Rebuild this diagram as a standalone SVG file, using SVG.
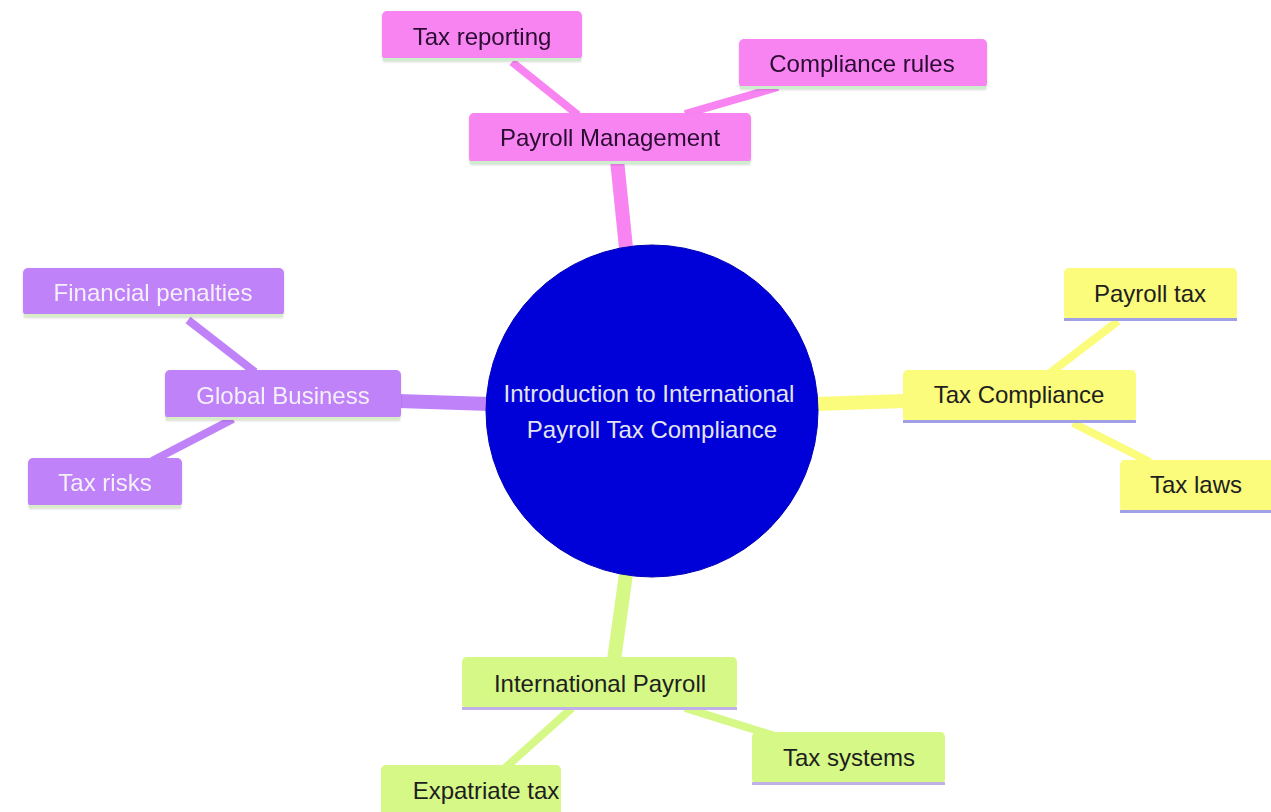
<svg xmlns="http://www.w3.org/2000/svg" width="1271" height="812" viewBox="0 0 1271 812">
<style>
text{font-family:"Liberation Sans",Arial,sans-serif;font-size:24px;text-anchor:middle;dominant-baseline:central}
.pk{fill:#f884f2}.pu{fill:#c082f8}.ye{fill:#fbfb7c}.gr{fill:#d6f886}
.dk{fill:#1e1e1e}.dp{fill:#2a0a30}.wt{fill:#f4f0f8}
.lg{fill:#cdeecd}.lb{fill:#a0a0e6}.ll{fill:#bfb0e8}
.e{fill:none;stroke-linecap:butt}
</style>
<defs>
<filter id="sh" x="-10%" y="-20%" width="120%" height="150%"><feDropShadow dx="0" dy="1" stdDeviation="1.2" flood-color="#000" flood-opacity="0.15"/></filter>
</defs>
<rect width="1271" height="812" fill="#fff"/>
<g id="connectors">
<line class="e" x1="626" y1="248" x2="617" y2="160" stroke="#f884f2" stroke-width="14"/>
<line class="e" x1="578" y1="115" x2="512" y2="62" stroke="#f884f2" stroke-width="8"/>
<line class="e" x1="685" y1="114" x2="778" y2="87" stroke="#f884f2" stroke-width="8"/>
<line class="e" x1="490" y1="404" x2="398" y2="401" stroke="#c082f8" stroke-width="14"/>
<line class="e" x1="255" y1="372" x2="188" y2="320" stroke="#c082f8" stroke-width="8"/>
<line class="e" x1="233" y1="419" x2="152" y2="461" stroke="#c082f8" stroke-width="8"/>
<line class="e" x1="815" y1="404" x2="905" y2="401" stroke="#fbfb7c" stroke-width="14"/>
<line class="e" x1="1050" y1="373" x2="1118" y2="321" stroke="#fbfb7c" stroke-width="8"/>
<line class="e" x1="1073" y1="423" x2="1150" y2="462" stroke="#fbfb7c" stroke-width="8"/>
<line class="e" x1="626" y1="574" x2="614" y2="660" stroke="#d6f886" stroke-width="14"/>
<line class="e" x1="572" y1="708" x2="505" y2="768" stroke="#d6f886" stroke-width="8"/>
<line class="e" x1="685" y1="708" x2="775" y2="736" stroke="#d6f886" stroke-width="8"/>
</g>
<g id="root">
<circle cx="652" cy="411" r="166" fill="#0000d8" stroke="#0000b8" stroke-width="1"/>
<text x="649" y="393" fill="#e4e4ee">Introduction to International</text>
<text x="652" y="429" fill="#e4e4ee">Payroll Tax Compliance</text>
</g>
<g id="payroll-management" filter="url(#sh)">
<rect x="469" y="113" width="282" height="50" rx="5" class="pk"/>
<rect x="470" y="161" width="280" height="3" class="lg"/>
<text x="610" y="137" class="dp">Payroll Management</text>
</g>
<g id="tax-reporting" filter="url(#sh)">
<rect x="382" y="11" width="200" height="49" rx="5" class="pk"/>
<rect x="383" y="58" width="198" height="3" class="lg"/>
<text x="482" y="36" class="dp">Tax reporting</text>
</g>
<g id="compliance-rules" filter="url(#sh)">
<rect x="739" y="39" width="248" height="49" rx="5" class="pk"/>
<rect x="740" y="86" width="246" height="3" class="lg"/>
<text x="862" y="63" class="dp">Compliance rules</text>
</g>
<g id="global-business" filter="url(#sh)">
<rect x="165" y="370" width="236" height="49" rx="5" class="pu"/>
<rect x="166" y="417" width="234" height="3" fill="#d8ecc8"/>
<text x="283" y="395" class="wt">Global Business</text>
</g>
<g id="financial-penalties" filter="url(#sh)">
<rect x="23" y="268" width="261" height="48" rx="5" class="pu"/>
<rect x="24" y="314" width="259" height="3" fill="#d8ecc8"/>
<text x="153" y="292" class="wt">Financial penalties</text>
</g>
<g id="tax-risks" filter="url(#sh)">
<rect x="28" y="458" width="154" height="49" rx="5" class="pu"/>
<rect x="29" y="505" width="152" height="3" fill="#d8ecc8"/>
<text x="105" y="482" class="wt">Tax risks</text>
</g>
<g id="tax-compliance">
<rect x="903" y="370" width="233" height="52" rx="5" class="ye"/>
<rect x="903" y="420" width="233" height="3" class="lb"/>
<text x="1019" y="394" class="dk">Tax Compliance</text>
</g>
<g id="payroll-tax">
<rect x="1064" y="268" width="173" height="52" rx="5" class="ye"/>
<rect x="1064" y="318" width="173" height="3" class="lb"/>
<text x="1150" y="293" class="dk">Payroll tax</text>
</g>
<g id="tax-laws">
<rect x="1120" y="460" width="156" height="52" rx="5" class="ye"/>
<rect x="1120" y="510" width="151" height="3" class="lb"/>
<text x="1196" y="484" class="dk">Tax laws</text>
</g>
<g id="international-payroll">
<rect x="462" y="657" width="275" height="52" rx="5" class="gr"/>
<rect x="462" y="707" width="275" height="3" class="ll"/>
<text x="600" y="683" class="dk">International Payroll</text>
</g>
<g id="expatriate-tax">
<rect x="381" y="765" width="180" height="52" rx="5" class="gr"/>
<text x="486" y="790" class="dk">Expatriate tax</text>
</g>
<g id="tax-systems">
<rect x="752" y="732" width="193" height="52" rx="5" class="gr"/>
<rect x="752" y="782" width="193" height="3" class="ll"/>
<text x="849" y="757" class="dk">Tax systems</text>
</g>
</svg>
